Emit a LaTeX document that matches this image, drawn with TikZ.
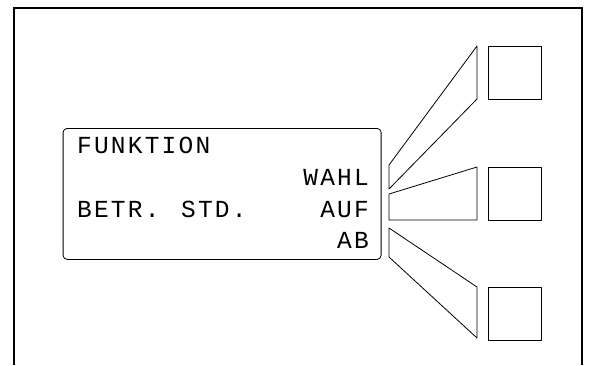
\documentclass[tikz,border=0pt]{standalone}
\usepackage{fontspec}
\newfontfamily\lcdfont[LetterSpace=9]{Liberation Mono}
\begin{document}
\begin{tikzpicture}[x=1pt,y=-1pt,
  thin line/.style={draw=black,line width=0.8pt,line join=round},
  frame line/.style={draw=black,line width=2pt},
  lcd/.style={font=\lcdfont\fontsize{24.5}{24.5}\selectfont,inner sep=0pt}]
\useasboundingbox (0,0) rectangle (589,365);
% outer frame
\coordinate (fbl) at (14,365);
\coordinate (ftl) at (14,7.5);
\coordinate (ftr) at (582,7.5);
\coordinate (fbr) at (582,365);
\draw[frame line] (fbl) -- (ftl) -- (ftr) -- (fbr);
% display
\node[thin line,rounded corners=4pt,minimum width=318pt,minimum height=131pt,anchor=north west,inner sep=0pt] (disp) at (62.7,128) {};
\node[lcd,anchor=base west] (funk) at (77,153) {FUNKTION};
\node[lcd,anchor=base east] (wahl) at (369,185) {WAHL};
\node[lcd,anchor=base west] (betr) at (77,217) {BETR.};
\node[lcd,anchor=base west] (std) at (181,217) {STD.};
\node[lcd,anchor=base east] (auf) at (369,217) {AUF};
\node[lcd,anchor=base east] (ab) at (369,248.5) {AB};
% light guides
\draw[thin line] (389,165) -- (477,46) -- (477,99) -- (389,189) -- cycle;
\draw[thin line] (389,194) -- (477,167) -- (477,220) -- (389,220) -- cycle;
\draw[thin line] (389,228) -- (477,287) -- (477,338) -- (389,257) -- cycle;
% buttons
\node[thin line,minimum width=53pt,minimum height=53pt,anchor=north west,inner sep=0pt] (k1) at (488,46) {};
\node[thin line,minimum width=53pt,minimum height=53pt,anchor=north west,inner sep=0pt] (k2) at (488,167) {};
\node[thin line,minimum width=53pt,minimum height=53pt,anchor=north west,inner sep=0pt] (k3) at (488,287) {};
\end{tikzpicture}
\end{document}
